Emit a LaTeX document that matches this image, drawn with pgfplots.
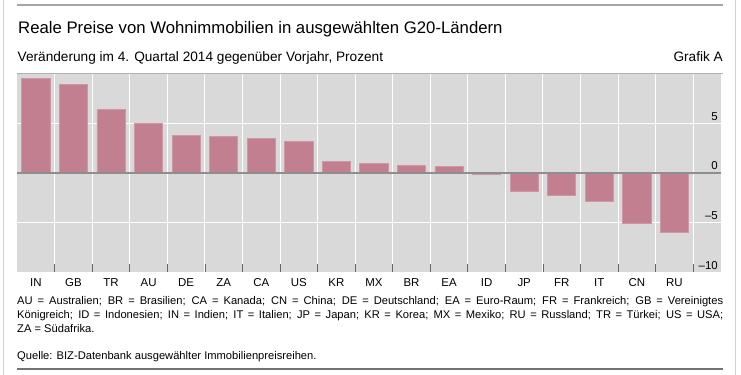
\documentclass[border=0pt]{standalone}
\usepackage{pgfplots}
\pgfplotsset{compat=1.18}
\usepackage{fontspec}
\setmainfont{Liberation Sans}
\definecolor{barcol}{HTML}{C27F8F}
\definecolor{baredge}{HTML}{CC98A4}
\definecolor{bggray}{HTML}{D9D9D9}
\definecolor{zerocol}{HTML}{8E8E8E}
\definecolor{framegray}{HTML}{A6A6A6}
\begin{document}
\begin{tikzpicture}
\useasboundingbox (0,0) rectangle (741bp,-375bp);
% frame
\draw[color=black!18, line width=1bp] (3.5bp,0) -- (3.5bp,-375bp);
\draw[color=black!18, line width=1bp] (735.5bp,0) -- (735.5bp,-375bp);
\draw[color=framegray, line width=2bp] (17bp,-4.5bp) -- (723bp,-4.5bp);
\draw[color=black!55, line width=1.8bp] (17bp,-369bp) -- (723bp,-369bp);
% titles
\node[anchor=base west, inner sep=0pt, font=\fontsize{16.8}{20}\selectfont] at (18bp,-33bp) {Reale Preise von Wohnimmobilien in ausgewählten G20-Ländern};
\node[anchor=base west, inner sep=0pt, font=\fontsize{13.7}{16}\selectfont] at (17.5bp,-61bp) {Veränderung im 4. Quartal 2014 gegenüber Vorjahr, Prozent};
\node[anchor=base east, inner sep=0pt, font=\fontsize{13.7}{16}\selectfont] at (723bp,-61bp) {Grafik A};
\begin{axis}[
  at={(17.15bp,-272bp)}, anchor=south west,
  width=703.85bp, height=198.5bp, scale only axis,
  xmin=-0.5, xmax=18.24, ymin=-10, ymax=10,
  axis background/.style={fill=bggray},
  axis line style={draw=none},
  xtick={0,...,17},
  xticklabels={IN,GB,TR,AU,DE,ZA,CA,US,KR,MX,BR,EA,ID,JP,FR,IT,CN,RU},
  minor xtick={0.5,1.5,...,17.5},
  xminorgrids=true,
  minor x grid style={white, line width=1bp},
  major x tick style={draw=none},
  minor x tick style={draw=black!60, line width=0.8bp},
  minor tick length=8bp,
  tick align=inside,
  xtick pos=bottom,
  ytick={-10,-5,0,5},
  yticklabels={–10,–5,0,5},
  ymajorgrids=true,
  major y grid style={white, line width=1bp},
  y tick style={draw=none},
  yticklabel pos=right,
  yticklabel style={anchor=base east, xshift=-3bp, yshift=3bp, inner sep=0pt, font=\fontsize{11.5}{13}\selectfont},
  xticklabel style={font=\fontsize{11.5}{13}\selectfont, yshift=-3bp},
  /pgf/number format/assume math mode=true,
  clip=false,
]
\addplot[ybar, bar width=0.75, fill=barcol, draw=baredge, line width=0.8bp] coordinates {
 (0,9.5) (1,8.87) (2,6.37) (3,5.0) (4,3.77) (5,3.67) (6,3.47) (7,3.17) (8,1.1)
 (9,0.9) (10,0.77) (11,0.63) (12,-0.17) (13,-1.83) (14,-2.27) (15,-2.93) (16,-5.13) (17,-6.03)
};
\draw[zerocol, line width=1.5bp] (axis cs:-0.5,0) -- (axis cs:18.24,0);
\end{axis}
\draw[color=black!30, line width=0.8bp] (17bp,-73.5bp) -- (723bp,-73.5bp);
% footnote
\node[anchor=north west, inner sep=0pt, text width=706bp, align=justify, font=\fontsize{11.2}{14}\selectfont] at (17bp,-296.5bp) {AU = Australien; BR = Brasilien; CA = Kanada; CN = China; DE = Deutschland; EA = Euro-Raum; FR = Frankreich; GB = Vereinigtes\linebreak Königreich; ID = Indonesien; IN = Indien; IT = Italien; JP = Japan; KR = Korea; MX = Mexiko; RU = Russland; TR = Türkei; US = USA;\linebreak ZA = Südafrika.};
\node[anchor=base west, inner sep=0pt, font=\fontsize{11.2}{14}\selectfont] at (17bp,-359bp) {Quelle: BIZ-Datenbank ausgewählter Immobilienpreisreihen.};
\end{tikzpicture}
\end{document}
